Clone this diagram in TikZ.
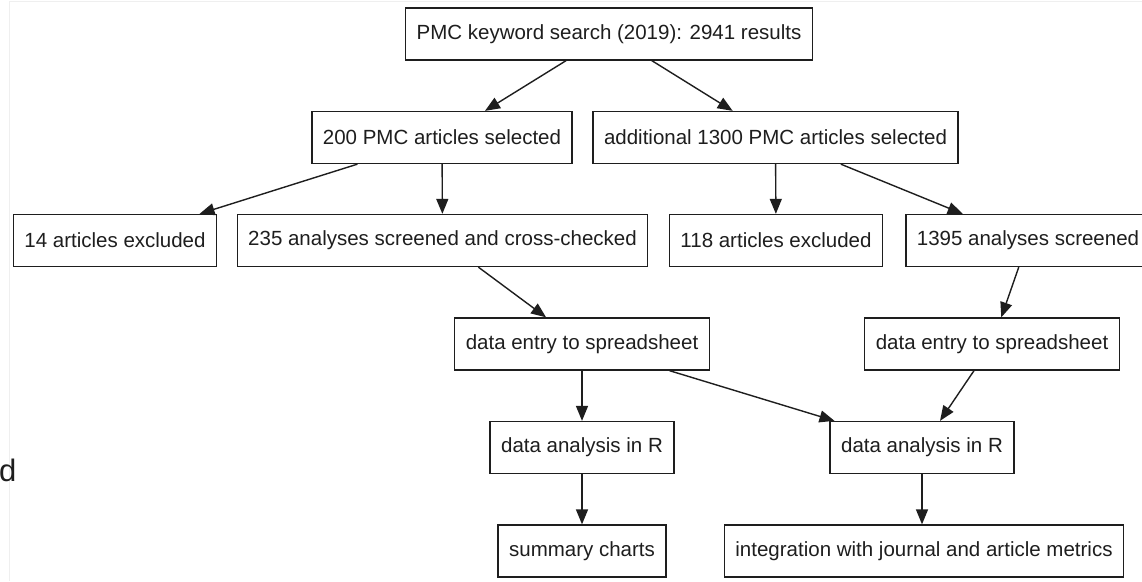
\documentclass[tikz,border=0pt]{standalone}
\usepackage{fontspec}
\setmainfont{Liberation Sans}
\usetikzlibrary{arrows.meta}
\definecolor{ink}{HTML}{1E1E1E}
\definecolor{edge}{HTML}{EFEFEF}
\tikzset{
  box/.style={draw=ink, line width=1.3pt, fill=white, text=ink,
    font=\fontsize{20.5}{24}\selectfont, inner xsep=11pt, inner ysep=0pt,
    minimum height=52pt},
  flow/.style={draw=ink, line width=1.4pt,
    -{Triangle[length=15pt,width=12pt]}},
}
\begin{document}
\begin{tikzpicture}[x=1pt, y=-1pt]
  \useasboundingbox (0,0) rectangle (1142,581);
  \clip (0,0) rectangle (1142,581);
  \fill[white] (0,0) rectangle (1142,581);

  % faint page edge
  \draw[edge, line width=0.8pt] (9.5,581) -- (9.5,1.5) -- (1142,1.5);

  % stray letter at the left margin
  \node[anchor=base east, text=ink, font=\fontsize{31}{36}\selectfont,
        inner sep=0pt] (stray) at (16.5,481) {d};

  % nodes
  \node[box] (search) at (609,34) {PMC keyword search (2019): 2941 results};

  \node[box] (selA) at (442,137.5) {200 PMC articles selected};
  \node[box] (selB) at (775.5,137.5) {additional 1300 PMC articles selected};

  \node[box] (exclA) at (115,240.5) {14 articles excluded};
  \node[box] (scrA) at (442.5,240.5) {235 analyses screened and cross-checked};
  \node[box] (exclB) at (776,240.5) {118 articles excluded};
  \node[box] (scrB) at (1028,240.5) {1395 analyses screened};

  \node[box] (entryA) at (582,344) {data entry to spreadsheet};
  \node[box] (entryB) at (992,344) {data entry to spreadsheet};

  \node[box] (anaA) at (582,447.5) {data analysis in R};
  \node[box] (anaB) at (922,447.5) {data analysis in R};

  \node[box] (charts) at (582,551) {summary charts};
  \node[box] (metrics) at (924,551) {integration with journal and article metrics};

  % connectors
  \draw[flow] (search) -- (selA);
  \draw[flow] (search) -- (selB);
  \draw[flow] (selA) -- (exclA);
  \draw[flow] (selA) -- (scrA);
  \draw[flow] (selB) -- (exclB);
  \draw[flow] (selB) -- (scrB);
  \draw[flow] (scrA) -- (entryA);
  \draw[flow] (scrB) -- (entryB);
  \draw[flow] (entryA) -- (anaA);
  \draw[flow] (entryA) -- (anaB);
  \draw[flow] (entryB) -- (anaB);
  \draw[flow] (anaA) -- (charts);
  \draw[flow] (anaB.south) -- (anaB.south |- metrics.north);
\end{tikzpicture}
\end{document}
